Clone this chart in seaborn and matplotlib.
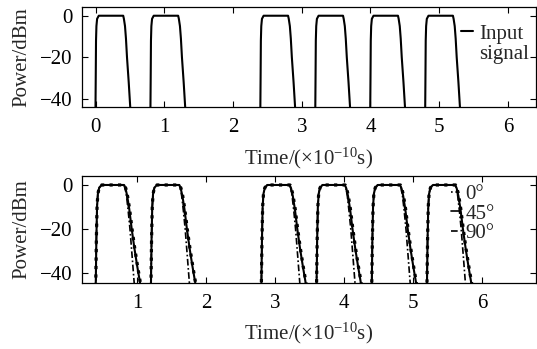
import numpy as np
import pandas as pd
import matplotlib
matplotlib.use('Agg')
import matplotlib.pyplot as plt
from matplotlib.lines import Line2D
import seaborn as sns

# pulse start times (x 1e-10 s)
input_starts = [0.0, 0.8, 2.4, 3.2, 4.0, 4.8]
output_starts = [0.4, 1.2, 2.8, 3.6, 4.4, 5.2]

# input pulse shape: offset from start, power in dBm
input_dt = [-0.005, 0.0, 0.004, 0.010, 0.020, 0.044, 0.400, 0.410, 0.426, 0.440, 0.455, 0.480, 0.504, 0.510]
input_db = [-50, -30, -12, -5, -1.5, 0, 0, -1.5, -5, -11, -20, -32, -45, -50]

# output pulse shapes for the three polarisation angles
out0_dt = [-0.005, 0.0, 0.008, 0.018, 0.030, 0.050, 0.086, 0.415, 0.435, 0.460, 0.490, 0.525, 0.565, 0.605, 0.648, 0.655]
out0_db = [-50, -44, -25, -10, -4, -1.2, 0, 0, -1.5, -5, -11, -20, -29, -37, -45, -50]
out45_dt = [-0.005, 0.0, 0.008, 0.018, 0.030, 0.050, 0.086, 0.410, 0.430, 0.455, 0.485, 0.520, 0.560, 0.600, 0.643, 0.650]
out45_db = [-50, -44, -25, -10, -4, -1.2, 0, 0, -1.5, -5, -11, -20, -29, -37, -45, -50]
out90_dt = [-0.005, 0.0, 0.008, 0.018, 0.030, 0.050, 0.086, 0.410, 0.425, 0.445, 0.470, 0.495, 0.525, 0.557, 0.565]
out90_db = [-50, -44, -25, -10, -4, -1.2, 0, 0, -1.5, -5, -12, -20, -32, -45, -50]

angle_labels = ['0°', '45°', '90°']


def pulse_train(starts, dt, db):
    x = np.concatenate([s + np.array(dt) for s in starts])
    y = np.concatenate([np.array(db, dtype=float) for s in starts])
    return pd.DataFrame({'t': x, 'p': y})


sns.set_style('ticks')
plt.rcParams['font.family'] = ['Liberation Serif', 'DejaVu Serif']
plt.rcParams['mathtext.fontset'] = 'custom'
plt.rcParams['mathtext.rm'] = 'Liberation Serif'
plt.rcParams['mathtext.it'] = 'Liberation Serif:italic'
FS = 15

fig = plt.figure(figsize=(5.37, 3.49), dpi=100)
ax1 = fig.add_axes([0.1527, 0.6934, 0.8455, 0.2865])
ax2 = fig.add_axes([0.1527, 0.1900, 0.8455, 0.3057])

# top panel: input signal
df_in = pulse_train(input_starts, input_dt, input_db)
sns.lineplot(data=df_in, x='t', y='p', ax=ax1, color='k', lw=1.5,
             estimator=None, sort=False, legend=False)
ax1.set_xlim(-0.2, 6.41)
ax1.set_ylim(-44, 4.2)
ax1.set_xticks(range(0, 7))

# bottom panel: output for each angle
styles = [(':', 2.3), ('-', 1.5), ((0, (4, 1.5, 1, 1.5)), 1.2)]
shapes = [(out0_dt, out0_db), (out45_dt, out45_db), (out90_dt, out90_db)]
for lab, (dt, db), (ls, lw) in zip(angle_labels, shapes, styles):
    d = pulse_train(output_starts, dt, db)
    sns.lineplot(data=d, x='t', y='p', ax=ax2, color='k', lw=lw, linestyle=ls,
                 estimator=None, sort=False, label=lab)
ax2.set_xlim(0.2, 6.78)
ax2.set_ylim(-44.6, 4.1)
ax2.set_xticks(range(1, 7))

for ax in (ax1, ax2):
    ax.set_yticks([0, -20, -40])
    ax.set_ylabel('Power/dBm', fontsize=FS, labelpad=6)
    ax.set_xlabel('Time/(×10$^{-10}$s)', fontsize=FS, labelpad=6)
    ax.tick_params(direction='in', length=4, width=0.8, top=True, right=True,
                   labelsize=FS, colors='k')
    ax.tick_params(axis='x', pad=8)
    ax.tick_params(axis='y', pad=7)
    for sp in ax.spines.values():
        sp.set_visible(True)
        sp.set_color('k')
        sp.set_linewidth(0.9)

# top legend: two-line label, handle beside first line
h_in = [Line2D([], [], color='k', lw=1.5), Line2D([], [], color='none')]
ax1.legend(h_in, ['Input', 'signal'], loc='upper left', bbox_to_anchor=(0.835, 0.83),
           frameon=False, handlelength=0.55, handletextpad=0.3, borderpad=0,
           borderaxespad=0, labelspacing=0.05, fontsize=FS)

leg2 = ax2.legend(loc='upper left', bbox_to_anchor=(0.812, 0.92), frameon=False,
                  handlelength=0.45, handletextpad=0.25, borderpad=0, borderaxespad=0,
                  labelspacing=0.0, fontsize=FS)
for h in leg2.get_lines():
    h.set_linewidth(1.2)

fig.savefig('out.png', dpi=100)
